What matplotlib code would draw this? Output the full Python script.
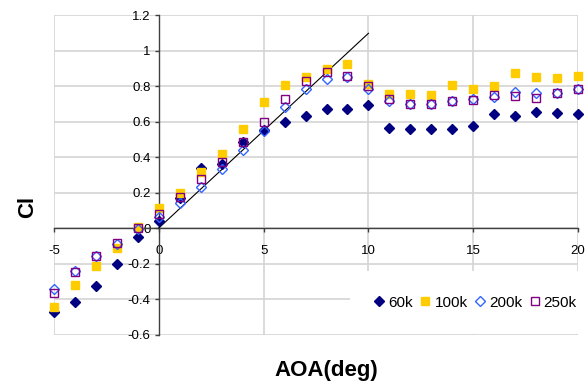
import numpy as np
import matplotlib.pyplot as plt

plt.rcParams['font.family'] = ['Liberation Sans', 'DejaVu Sans']
plt.rcParams['axes.unicode_minus'] = False

# angle of attack (deg)
aoa = [-5, -4, -3, -2, -1, 0, 1, 2, 3, 4, 5, 6, 7, 8, 9, 10,
       11, 12, 13, 14, 15, 16, 17, 18, 19, 20]

cl_60k = [-0.475, -0.415, -0.325, -0.205, -0.049, 0.041, 0.17, 0.336, 0.36, 0.483,
          0.552, 0.595, 0.633, 0.670, 0.670, 0.691,
          0.565, 0.558, 0.558, 0.558, 0.573, 0.641, 0.633, 0.654, 0.646, 0.641]
cl_100k = [-0.443, -0.321, -0.212, -0.115, 0.008, 0.111, 0.195, 0.314, 0.419, 0.559,
           0.708, 0.806, 0.849, 0.896, 0.924, 0.81,
           0.755, 0.753, 0.75, 0.804, 0.781, 0.798, 0.871, 0.849, 0.843, 0.858]
cl_200k = [-0.344, -0.245, -0.158, -0.092, -0.007, 0.064, 0.139, 0.229, 0.332, 0.438,
           0.548, 0.684, 0.781, 0.839, 0.853, 0.781,
           0.718, 0.70, 0.70, 0.715, 0.727, 0.74, 0.764, 0.759, 0.759, 0.783]
cl_250k = [-0.368, -0.25, -0.156, -0.083, -0.002, 0.079, 0.173, 0.276, 0.37, 0.483,
           0.595, 0.725, 0.828, 0.881, 0.858, 0.80,
           0.727, 0.70, 0.70, 0.715, 0.723, 0.749, 0.742, 0.73, 0.759, 0.783]

# thin airfoil theory line, Cl = 2*pi*alpha
theory_aoa = [0, 10]
theory_cl = [0, 1.097]

fig = plt.figure(figsize=(5.86, 3.86), dpi=100)
ax = fig.add_axes([0.0922, 0.1334, 0.8942, 0.8277])

ax.plot(theory_aoa, theory_cl, color='black', lw=0.8, zorder=3)

ax.plot(aoa, cl_60k, 'D', ls='none', color='#000080', ms=5, label='60k', clip_on=False, zorder=4)
ax.plot(aoa, cl_100k, 's', ls='none', color='#FFCC00', ms=5.5, label='100k', clip_on=False, zorder=4)
ax.plot(aoa, cl_200k, 'D', ls='none', mfc='none', mec='#3366FF', mew=1.0, ms=5,
        label='200k', clip_on=False, zorder=4)
ax.plot(aoa, cl_250k, 's', ls='none', mfc='none', mec='#800080', mew=1.0, ms=5.5,
        label='250k', clip_on=False, zorder=4)

ax.set_xlim(-5, 20)
ax.set_ylim(-0.6, 1.2)
ax.set_xticks([-5, 0, 5, 10, 15, 20])
ax.set_yticks(np.round(np.arange(-0.6, 1.21, 0.2), 1))
ax.set_yticklabels(['-0.6', '-0.4', '-0.2', '0', '0.2', '0.4', '0.6', '0.8', '1', '1.2'])

# axes through the origin, like the excel chart
ax.spines['left'].set_position(('data', 0))
ax.spines['bottom'].set_position(('data', 0))
ax.spines['top'].set_visible(False)
ax.spines['right'].set_visible(False)
for s in ['left', 'bottom']:
    ax.spines[s].set_color('#404040')
    ax.spines[s].set_linewidth(1.0)
    ax.spines[s].set_zorder(2)

ax.tick_params(axis='both', direction='out', length=3, width=1, color='#404040',
               labelsize=9.5)
ax.tick_params(axis='x', pad=9)
ax.tick_params(axis='y', pad=3)

# grid lines (vertical at every 5, horizontal at every 0.2)
for gx in [-5, 5, 10, 15, 20]:
    ax.axvline(gx, color='#d4d4d4', lw=1.2, zorder=0)
for gy in ax.get_yticks():
    ax.axhline(gy, color='#d4d4d4', lw=1.2, zorder=0)

ax.set_xlabel('AOA(deg)', fontsize=16, fontweight='bold')
ax.xaxis.set_label_coords(0.52, -0.08)
ax.set_ylabel('Cl', fontsize=16, fontweight='bold')
ax.yaxis.set_label_coords(-0.03, 0.4)

leg = ax.legend(loc='center', bbox_to_anchor=(0.805, 0.10), ncol=4, fontsize=11,
                frameon=True, facecolor='white', edgecolor='none', framealpha=1,
                handlelength=0.6, handletextpad=0.3, columnspacing=0.5,
                borderpad=1.6, borderaxespad=0, fancybox=False)
leg.set_zorder(5)

fig.savefig('out.png', dpi=100)
